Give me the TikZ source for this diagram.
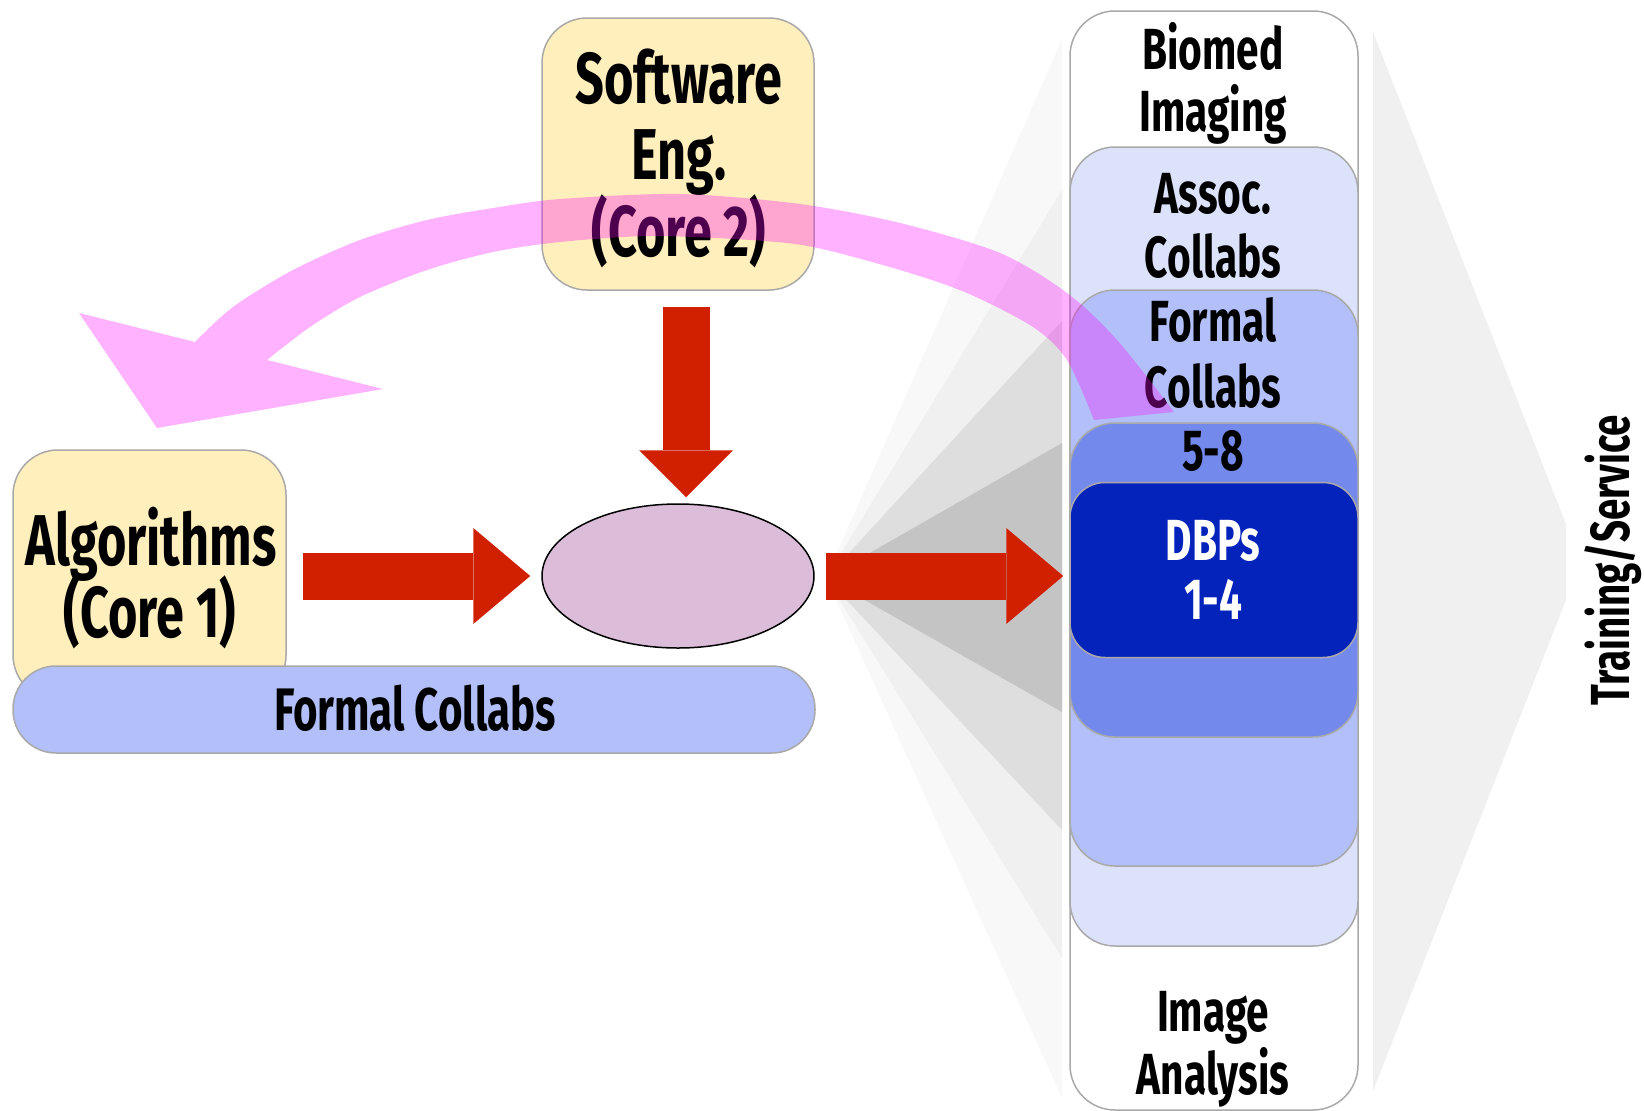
\documentclass[tikz,border=0pt]{standalone}
\usepackage{fontspec}
\newfontfamily\hand{Fira Sans}[FakeStretch=0.7]
\usetikzlibrary{calc,arrows.meta,shapes.geometric}
\definecolor{yel}{HTML}{FFEFBC}
\definecolor{bord}{HTML}{A9A9A9}
\definecolor{assocc}{HTML}{DDE2FB}
\definecolor{formalc}{HTML}{B2BFF8}
\definecolor{fivec}{HTML}{7489EC}
\definecolor{dbpc}{HTML}{0323BA}
\definecolor{ellc}{HTML}{DBBDDA}
\definecolor{redc}{HTML}{D12000}
\definecolor{chevc}{HTML}{F0F0F0}
\definecolor{fanA}{HTML}{F8F8F8}
\definecolor{fanB}{HTML}{F0F0F0}
\definecolor{fanC}{HTML}{DEDEDE}
\definecolor{fanD}{HTML}{C4C4C4}
\definecolor{pinkc}{HTML}{FF00FF}
\tikzset{
  layer/.style={draw=bord, line width=1.5pt, rounded corners=45pt, minimum width=288pt, inner sep=0pt},
  ybox/.style={draw=bord, line width=1.5pt, fill=yel, rounded corners=45pt, inner sep=0pt},
  coltxt/.style={font=\hand\bfseries\fontsize{58}{60}\selectfont, anchor=base, inner sep=0pt},
  bigtxt/.style={font=\hand\bfseries\fontsize{72}{76}\selectfont, anchor=base, inner sep=0pt},
  redarr/.style={draw=redc, line width=47pt, -{Triangle[length=57pt,width=96pt,line width=0pt]}},
  redarrv/.style={draw=redc, line width=47pt, -{Triangle[length=47pt,width=94pt,line width=0pt]}},
}
\begin{document}
\begin{tikzpicture}[x=1pt,y=-1pt]
\useasboundingbox (0,0) rectangle (1644,1111);
% right chevron
\fill[chevc] (1373,32) -- (1566,524) -- (1566,600) -- (1373,1091) -- cycle;
\node[font=\hand\bfseries\fontsize{55}{60}\selectfont, rotate=90, anchor=base, inner sep=0pt] (train) at (1629,560) {Training/Service};
% fan
\fill[fanA] (826,578) -- (1062,39) -- (1062,1098) -- cycle;
\fill[fanB] (826,578) -- (1062,190) -- (1062,958) -- cycle;
\fill[fanC] (826,578) -- (1062,321) -- (1062,830) -- cycle;
\fill[fanD] (826,578) -- (1062,443) -- (1062,712) -- cycle;
% column
\node[layer, fill=white, minimum height=1099pt] (col) at (1214,560.5) {};
\node[layer, fill=assocc, minimum height=799pt] (assoc) at (1214,546.5) {};
\node[layer, fill=formalc, minimum height=576pt] (formal) at (1214,578) {};
\node[layer, fill=fivec, minimum height=314pt] (five) at (1214,580) {};
\node[layer, fill=dbpc, minimum height=175pt, rounded corners=35pt] (dbp) at (1214,570) {};
\node[coltxt] (t1) at (1213,69) {Biomed};
\node[coltxt] (t2) at (1213,131) {Imaging};
\node[coltxt] (t3) at (1213,213) {Assoc.};
\node[coltxt] (t4) at (1213,277) {Collabs};
\node[coltxt] (t5) at (1213,341) {Formal};
\node[coltxt] (t6) at (1213,407) {Collabs};
\node[coltxt] (t7) at (1213,470) {5-8};
\node[coltxt, text=white] (t8) at (1213,560) {DBPs};
\node[coltxt, text=white] (t9) at (1213,619) {1-4};
\node[coltxt] (t10) at (1213,1031) {Image};
\node[coltxt] (t11) at (1213,1094) {Analysis};
% left boxes
\node[ybox, minimum width=272pt, minimum height=272pt] (sw) at (678,154) {};
\node[bigtxt] (s1) at (679,103) {Software};
\node[bigtxt] (s2) at (679,179) {Eng.};
\node[bigtxt] (s3) at (679,256) {(Core 2)};
\node[ybox, minimum width=273pt, minimum height=250pt] (alg) at (149.5,575) {};
\node[bigtxt] (a1) at (151,565) {Algorithms};
\node[bigtxt] (a2) at (150,637) {(Core 1)};
\node[draw=bord, line width=1.5pt, fill=formalc, rounded corners=43pt, minimum width=802pt, minimum height=87pt, inner sep=0pt] (fbar) at (414,709.5) {};
\node[font=\hand\bfseries\fontsize{60}{64}\selectfont, anchor=base, inner sep=0pt] (fb) at (415,730) {Formal Collabs};
% ellipse
\node[ellipse, draw=black, line width=1.5pt, fill=ellc, minimum width=272pt, minimum height=144pt, inner sep=0pt] (ell) at (678,576) {};
% red arrows
\draw[redarr, shorten <=16pt, shorten >=11pt] (alg.east |- ell.west) -- (ell.west);
\draw[redarrv, shorten <=16pt, shorten >=6pt] ([xshift=8pt]sw.south) -- ([xshift=8pt]ell.north);
\draw[redarr, shorten <=11pt, shorten >=6pt] (ell.east) -- (col.west |- ell.east);
% pink curved arrow
\fill[pinkc, opacity=0.3]
  plot[smooth] coordinates {(1174,412) (1117,340) (1067,293) (1000,253) (900,223) (800,204) (680,194) (560,199) (493,208) (427,220) (360,240) (293,270) (233,307) (195,342)}
  -- (79,313) -- (157,428) -- (383,389) -- (267,360)
  -- plot[smooth] coordinates {(267,360) (310,327) (360,297) (427,270) (493,252) (560,242) (650,236) (750,240) (813,247) (900,270) (967,293) (1033,327) (1067,360) (1094,420)}
  -- cycle;
\end{tikzpicture}
\end{document}
